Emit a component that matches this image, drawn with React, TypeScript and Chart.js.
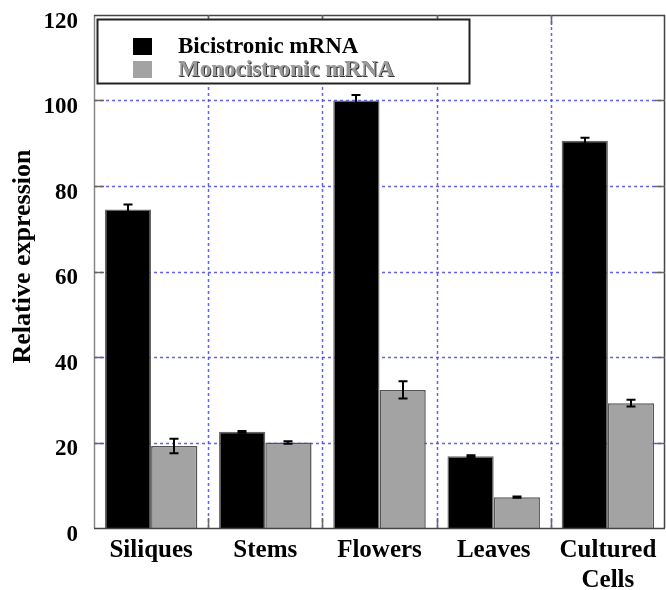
import React, { useEffect, useRef } from "react";
import { Chart, registerables } from "chart.js";
Chart.register(...registerables);

const categories: (string | string[])[] = ["Siliques", "Stems", "Flowers", "Leaves", ["Cultured", "Cells"]];
const seriesNames = ["Bicistronic mRNA", "Monocistronic mRNA"];
const yTitle = "Relative expression";
const bicistronic = [74.5, 22.5, 100.0, 16.8, 90.6];
const bicistronicErr = [1.2, 0.2, 1.3, 0.2, 0.7];
const monocistronic = [19.2, 20.0, 32.3, 7.2, 29.2];
const monocistronicErr = [1.7, 0.3, 2.0, 0.15, 0.8];
const yTicks = [0, 20, 40, 60, 80, 100, 120];

const FONT = "'Liberation Serif', 'Times New Roman', serif";
const errors = [bicistronicErr, monocistronicErr];

const decorPlugin = {
  id: "decor",
  beforeDatasetsDraw(chart: any) {
    const { ctx, chartArea: a, scales } = chart;
    const y = scales.y;
    const x = scales.x;
    ctx.save();
    ctx.strokeStyle = "rgba(70,70,235,0.85)";
    ctx.lineWidth = 1.5;
    ctx.setLineDash([3, 3]);
    yTicks.forEach((v) => {
      if (v === 0 || v === 120) return;
      const py = Math.round(y.getPixelForValue(v)) + 0.5;
      ctx.beginPath();
      ctx.moveTo(a.left, py);
      ctx.lineTo(a.right, py);
      ctx.stroke();
    });
    const n = categories.length;
    for (let i = 1; i < n; i++) {
      const px = Math.round((x.getPixelForValue(i - 1) + x.getPixelForValue(i)) / 2) + 0.5;
      ctx.beginPath();
      ctx.moveTo(px, a.top);
      ctx.lineTo(px, a.bottom);
      ctx.stroke();
    }
    ctx.restore();
  },
  afterDatasetsDraw(chart: any) {
    const { ctx, chartArea: a, scales } = chart;
    const y = scales.y;
    const x = scales.x;
    ctx.save();
    // error bars
    ctx.strokeStyle = "#000";
    ctx.lineWidth = 2;
    chart.data.datasets.forEach((ds: any, di: number) => {
      const meta = chart.getDatasetMeta(di);
      meta.data.forEach((el: any, j: number) => {
        const v = ds.data[j];
        const e = errors[di][j];
        const yt = y.getPixelForValue(v + e);
        const yb = y.getPixelForValue(v - e);
        const cx = Math.round(el.x);
        ctx.beginPath();
        ctx.moveTo(cx, yt);
        ctx.lineTo(cx, yb);
        ctx.moveTo(cx - 4.5, yt);
        ctx.lineTo(cx + 4.5, yt);
        ctx.moveTo(cx - 4.5, yb);
        ctx.lineTo(cx + 4.5, yb);
        ctx.stroke();
      });
    });
    // frame
    ctx.lineWidth = 1.5;
    ctx.strokeStyle = "#888";
    ctx.beginPath();
    ctx.moveTo(a.left + 0.5, a.top);
    ctx.lineTo(a.left + 0.5, a.bottom);
    ctx.stroke();
    ctx.strokeStyle = "#444";
    ctx.beginPath();
    ctx.moveTo(a.left, a.bottom + 0.5);
    ctx.lineTo(a.right, a.bottom + 0.5);
    ctx.moveTo(a.left, a.top + 0.5);
    ctx.lineTo(a.right, a.top + 0.5);
    ctx.moveTo(a.right - 0.5, a.top);
    ctx.lineTo(a.right - 0.5, a.bottom);
    ctx.stroke();
    // inner ticks
    ctx.strokeStyle = "#666";
    ctx.lineWidth = 1.5;
    yTicks.forEach((v) => {
      if (v === 0 || v === 120) return;
      const py = Math.round(y.getPixelForValue(v)) + 0.5;
      ctx.beginPath();
      ctx.moveTo(a.left, py);
      ctx.lineTo(a.left + 10, py);
      ctx.moveTo(a.right - 10, py);
      ctx.lineTo(a.right, py);
      ctx.stroke();
    });
    for (let i = 1; i < categories.length; i++) {
      const px = Math.round((x.getPixelForValue(i - 1) + x.getPixelForValue(i)) / 2) + 0.5;
      ctx.beginPath();
      ctx.moveTo(px, a.top);
      ctx.lineTo(px, a.top + 10);
      ctx.moveTo(px, a.bottom - 10);
      ctx.lineTo(px, a.bottom);
      ctx.stroke();
    }
    // legend
    const lx = a.left + 3;
    const ly = a.top + 4;
    const lw = 372;
    const lh = 64;
    ctx.fillStyle = "#fff";
    ctx.fillRect(lx, ly, lw, lh);
    ctx.strokeStyle = "#222";
    ctx.lineWidth = 2;
    ctx.strokeRect(lx + 0.5, ly + 0.5, lw, lh);
    const colors = ["#000", "#a3a3a3"];
    ctx.font = `bold 23px ${FONT}`;
    ctx.textBaseline = "middle";
    ctx.textAlign = "left";
    seriesNames.forEach((name, i) => {
      const sy = ly + 19 + i * 23;
      ctx.fillStyle = colors[i];
      ctx.fillRect(lx + 36, sy, 19, 17);
      if (i === 1) {
        ctx.shadowColor = "#333";
        ctx.shadowOffsetX = 1;
        ctx.shadowOffsetY = 1;
        ctx.shadowBlur = 0;
        ctx.fillStyle = "#9a9a9a";
      } else {
        ctx.fillStyle = "#000";
      }
      ctx.fillText(name, lx + 81, sy + 9);
      ctx.shadowColor = "transparent";
      ctx.shadowOffsetX = 0;
      ctx.shadowOffsetY = 0;
    });
    // y title
    ctx.save();
    ctx.translate(23, (a.top + a.bottom) / 2 - 15);
    ctx.rotate(-Math.PI / 2);
    ctx.font = `bold 26px ${FONT}`;
    ctx.fillStyle = "#000";
    ctx.textAlign = "center";
    ctx.textBaseline = "middle";
    ctx.fillText(yTitle, 0, 0);
    ctx.restore();
    ctx.restore();
  },
};

export default function App() {
  const ref = useRef<HTMLCanvasElement>(null);
  useEffect(() => {
    const chart = new Chart(ref.current!, {
      type: "bar",
      data: {
        labels: categories,
        datasets: [
          {
            label: seriesNames[0],
            data: bicistronic,
            backgroundColor: "#000",
            borderColor: "#666",
            borderWidth: 1.5,
            categoryPercentage: 0.81,
            barPercentage: 1,
          },
          {
            label: seriesNames[1],
            data: monocistronic,
            backgroundColor: "#a3a3a3",
            borderColor: "#555",
            borderWidth: 1.5,
            categoryPercentage: 0.81,
            barPercentage: 1,
          },
        ],
      },
      options: {
        animation: false,
        responsive: true,
        maintainAspectRatio: false,
        layout: { padding: { top: 15, right: 1, left: 0, bottom: 0 } },
        plugins: { legend: { display: false }, tooltip: { enabled: false } },
        scales: {
          x: {
            grid: { display: false, drawTicks: false },
            border: { display: false },
            ticks: {
              color: "#000",
              padding: 8,
              maxRotation: 0,
              autoSkip: false,
              font: { family: FONT, size: 25, weight: "bold", lineHeight: 1.2 },
            },
            afterFit: (s: any) => {
              s.height = 62;
              s.paddingLeft = 0;
              s.paddingRight = 0;
            },
          },
          y: {
            min: 0,
            max: 120,
            grid: { display: false, drawTicks: false },
            border: { display: false },
            ticks: {
              stepSize: 20,
              color: "#000",
              padding: 16,
              labelOffset: 7,
              font: { family: FONT, size: 23, weight: "bold" },
            },
            afterFit: (s: any) => {
              s.width = 94;
              s.paddingTop = 0;
              s.paddingBottom = 0;
            },
          },
        },
      },
      plugins: [decorPlugin],
    });
    return () => chart.destroy();
  }, []);
  return (
    <div style={{ position: "fixed", left: 0, top: 0, width: 666, height: 590, background: "#fff" }}>
      <canvas ref={ref} />
    </div>
  );
}
